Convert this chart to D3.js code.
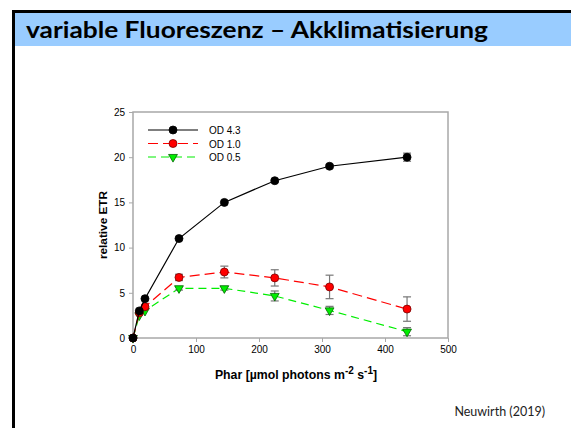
<!DOCTYPE html>
<html>
<head>
<meta charset="utf-8">
<script src="https://cdn.jsdelivr.net/npm/d3@7"></script>
<style>
  html, body { margin: 0; padding: 0; background: #fff; }
  svg { display: block; }
</style>
</head>
<body>
<svg id="slide" width="571" height="428"></svg>
<script>
// light values (x) shared by all series
const phar = [0, 10, 19, 73, 145, 225, 312, 435];

const od43 = [0, 3.0, 4.35, 11.0, 15.0, 17.4, 19.0, 20.0];
const od43Err = [0, 0, 0, 0, 0, 0.15, 0.2, 0.45];

const od10 = [0, 2.8, 3.45, 6.7, 7.3, 6.65, 5.65, 3.2];
const od10Err = [0, 0, 0.1, 0.35, 0.65, 0.9, 1.3, 1.35];

const od05 = [0, 2.5, 3.0, 5.5, 5.5, 4.65, 3.05, 0.7];
const od05Err = [0, 0, 0, 0.2, 0.2, 0.55, 0.45, 0.45];

const seriesNames = ['OD 4.3', 'OD 1.0', 'OD 0.5'];
const xTicks = [0, 100, 200, 300, 400, 500];
const yTicks = [0, 5, 10, 15, 20, 25];

const series = [
  { name: seriesNames[0], y: od43, err: od43Err, color: '#000000', edge: '#000000', dash: null, marker: 'circle' },
  { name: seriesNames[1], y: od10, err: od10Err, color: '#ff0000', edge: '#7a0000', dash: '10,5', marker: 'circle' },
  { name: seriesNames[2], y: od05, err: od05Err, color: '#00ee00', edge: '#006600', dash: '8,5', marker: 'triangle' }
];

const svg = d3.select('#slide');

// slide frame + header
svg.append('rect').attr('x', 13.5).attr('y', 11.5).attr('width', 571).attr('height', 430)
  .attr('fill', '#fff').attr('stroke', '#000').attr('stroke-width', 3);
svg.append('rect').attr('x', 15).attr('y', 13).attr('width', 556).attr('height', 33)
  .attr('fill', '#99ccff');
svg.append('text').attr('x', 26).attr('y', 38)
  .attr('font-family', 'Lato, "Open Sans", sans-serif').attr('font-weight', 'bold')
  .attr('font-size', 23).attr('textLength', 462).attr('lengthAdjust', 'spacingAndGlyphs')
  .text('variable Fluoreszenz – Akklimatisierung');

svg.append('text').attr('x', 545).attr('y', 416).attr('text-anchor', 'end')
  .attr('font-family', 'Lato, "Open Sans", sans-serif').attr('font-size', 12.5).attr('fill', '#222')
  .text('Neuwirth (2019)');

// plot
const plotL = 133, plotR = 448, plotT = 112, plotB = 338;
const x = d3.scaleLinear().domain([0, 500]).range([plotL, plotR]);
const y = d3.scaleLinear().domain([0, 25]).range([plotB, plotT]);

const axisColor = '#a8a8a8';
const font = '"Liberation Sans", Arial, sans-serif';

const xAxis = svg.append('g').attr('transform', `translate(0,${plotB})`)
  .call(d3.axisBottom(x).tickValues(xTicks).tickSize(4).tickPadding(4));
const yAxis = svg.append('g').attr('transform', `translate(${plotL},0)`)
  .call(d3.axisLeft(y).tickValues(yTicks).tickSize(4).tickPadding(4));
[xAxis, yAxis].forEach((g) => {
  g.select('.domain').remove();
  g.selectAll('line').attr('stroke', axisColor);
  g.selectAll('text').attr('font-family', font).attr('font-size', 10).attr('fill', '#000');
});

svg.append('rect').attr('x', plotL).attr('y', plotT).attr('width', plotR - plotL).attr('height', plotB - plotT)
  .attr('fill', 'none').attr('stroke', axisColor).attr('stroke-width', 1.5);

// lines, error bars, markers
const line = d3.line().x((d) => x(d[0])).y((d) => y(d[1]));
const tri = d3.symbol().type(d3.symbolTriangle).size(34);
const radius = 4;

series.slice().reverse().forEach((s) => {
  const pts = phar.map((p, i) => [p, s.y[i], s.err[i]]);
  svg.append('path').datum(pts).attr('d', line)
    .attr('fill', 'none').attr('stroke', s.color).attr('stroke-width', 1.2)
    .attr('stroke-dasharray', s.dash);

  const eb = svg.append('g').attr('stroke', '#777').attr('stroke-width', 1.2);
  pts.filter((d) => d[2] > 0).forEach((d) => {
    const cx = x(d[0]);
    eb.append('line').attr('x1', cx).attr('x2', cx).attr('y1', y(d[1] - d[2])).attr('y2', y(d[1] + d[2]));
    eb.append('line').attr('x1', cx - 4).attr('x2', cx + 4).attr('y1', y(d[1] - d[2])).attr('y2', y(d[1] - d[2]));
    eb.append('line').attr('x1', cx - 4).attr('x2', cx + 4).attr('y1', y(d[1] + d[2])).attr('y2', y(d[1] + d[2]));
  });

  pts.forEach((d) => {
    if (s.marker === 'circle') {
      svg.append('circle').attr('cx', x(d[0])).attr('cy', y(d[1])).attr('r', radius)
        .attr('fill', s.color).attr('stroke', s.edge).attr('stroke-width', 0.8);
    } else {
      svg.append('path').attr('d', tri)
        .attr('transform', `translate(${x(d[0])},${y(d[1])}) rotate(180)`)
        .attr('fill', s.color).attr('stroke', s.edge).attr('stroke-width', 0.8);
    }
  });
});

// legend
const legend = svg.append('g').attr('transform', 'translate(148,130)');
series.forEach((s, i) => {
  const g = legend.append('g').attr('transform', `translate(0,${i * 13.5})`);
  g.append('line').attr('x1', 0).attr('x2', 50).attr('stroke', s.color).attr('stroke-width', 1.2)
    .attr('stroke-dasharray', s.dash);
  if (s.marker === 'circle') {
    g.append('circle').attr('cx', 25).attr('r', radius).attr('fill', s.color)
      .attr('stroke', s.edge).attr('stroke-width', 0.8);
  } else {
    g.append('path').attr('d', tri).attr('transform', 'translate(25,0) rotate(180)')
      .attr('fill', s.color).attr('stroke', s.edge).attr('stroke-width', 0.8);
  }
  g.append('text').attr('x', 61).attr('y', 4).attr('font-family', font).attr('font-size', 10)
    .text(s.name);
});

// axis titles
svg.append('text').attr('transform', 'translate(107,225) rotate(-90)').attr('text-anchor', 'middle')
  .attr('font-family', font).attr('font-weight', 'bold').attr('font-size', 11.8)
  .text('relative ETR');

const xt = svg.append('text').attr('x', 296).attr('y', 379).attr('text-anchor', 'middle')
  .attr('font-family', font).attr('font-weight', 'bold').attr('font-size', 12.3);
xt.append('tspan').text('Phar [µmol photons m');
xt.append('tspan').attr('dy', -5).attr('font-size', 10).text('-2');
xt.append('tspan').attr('dy', 5).text(' s');
xt.append('tspan').attr('dy', -5).attr('font-size', 10).text('-1');
xt.append('tspan').attr('dy', 5).text(']');
</script>
</body>
</html>
